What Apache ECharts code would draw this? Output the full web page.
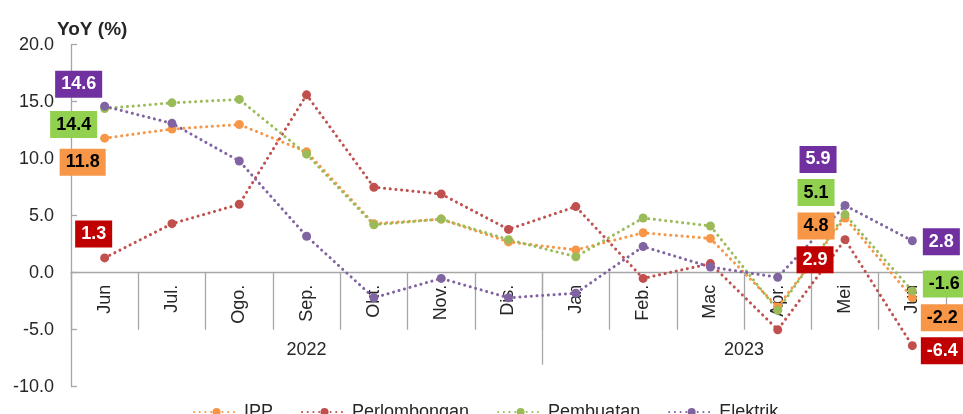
<!DOCTYPE html>
<html>
<head>
<meta charset="utf-8">
<script src="https://cdn.jsdelivr.net/npm/echarts@6/dist/echarts.min.js"></script>
<style>
html,body{margin:0;padding:0;background:#fff;}
#chart{width:963px;height:414px;}
</style>
</head>
<body>
<div id="chart"></div>
<script>
const months = ['Jun','Jul.','Ogo.','Sep.','Okt.','Nov.','Dis.','Jan','Feb.','Mac','Apr.','Mei','Jun'];
const years = ['2022','2023'];
const yTicks = [-10, -5, 0, 5, 10, 15, 20];
const ipp = [11.8, 12.6, 13.0, 10.6, 4.3, 4.7, 2.7, 2.0, 3.5, 3.0, -3.0, 4.8, -2.2];
const perlombongan = [1.3, 4.3, 6.0, 15.6, 7.5, 6.9, 3.8, 5.8, -0.5, 0.8, -5.0, 2.9, -6.4];
const pembuatan = [14.4, 14.9, 15.2, 10.4, 4.2, 4.7, 2.9, 1.4, 4.8, 4.1, -3.3, 5.1, -1.6];
const elektrik = [14.6, 13.1, 9.8, 3.2, -2.2, -0.5, -2.2, -1.8, 2.3, 0.5, -0.4, 5.9, 2.8];

// label placement (index -> pixel offset of label box from point)
const labelOffsets = {
  ipp:          {0: [-22, 24], 11: [-29, 8],  12: [30, 20]},
  perlombongan: {0: [-11, -24], 11: [-30, 20], 12: [30, 5]},
  pembuatan:    {0: [-31, 16], 11: [-29, -22], 12: [32, -7]},
  elektrik:     {0: [-26, -22], 11: [-27, -46], 12: [29, 1]}
};

const font = 'Liberation Sans, Arial, sans-serif';

function buildData(values, offsets, boxColor, textColor) {
  return values.map(function (v, i) {
    if (offsets[i]) {
      return {
        value: v,
        label: {
          show: true,
          position: 'inside',
          offset: offsets[i],
          formatter: function (p) { return p.value.toFixed(1); },
          backgroundColor: boxColor,
          color: textColor,
          fontFamily: font,
          fontWeight: 'bold',
          fontSize: 18,
          lineHeight: 19,
          padding: [4, 6]
        }
      };
    }
    return v;
  });
}

function lineSeries(name, values, color, offsets, boxColor, textColor) {
  return {
    name: name,
    type: 'line',
    data: buildData(values, offsets, boxColor, textColor),
    symbol: 'circle',
    symbolSize: 9,
    itemStyle: {color: color},
    lineStyle: {color: color, width: 3, type: [0.1, 5.6], cap: 'round'},
    emphasis: {disabled: true},
    animation: false,
    z: 2
  };
}

const chart = echarts.init(document.getElementById('chart'), null, {renderer: 'canvas'});
const axisColor = '#A6A6A6';
const textColor = '#262626';
const yMin = yTicks[0], yMax = yTicks[yTicks.length - 1];
const gridTop = 44.7, gridBottom = 27.3;
const plotH = 414 - gridTop - gridBottom;
const zeroOffset = -plotH * (0 - yMin) / (yMax - yMin);

chart.setOption({
  animation: false,
  backgroundColor: '#fff',
  title: {
    text: 'YoY (%)',
    left: 52,
    top: 15,
    textStyle: {fontFamily: font, fontWeight: 'bold', fontSize: 19, color: textColor}
  },
  grid: {left: 71, right: 17, top: gridTop, bottom: gridBottom, containLabel: false, outerBoundsMode: 'none'},
  legend: {
    left: 188,
    top: 397,
    itemWidth: 45,
    itemHeight: 10,
    itemGap: 28,
    textStyle: {fontFamily: font, fontSize: 18, color: textColor, lineHeight: 20},
    data: ['IPP', 'Perlombongan', 'Pembuatan', 'Elektrik']
  },
  xAxis: [
    {
      type: 'category',
      data: months,
      boundaryGap: true,
      position: 'bottom',
      offset: zeroOffset,
      axisLine: {onZero: false, lineStyle: {color: axisColor, width: 1.3}},
      axisTick: {show: true, interval: 0, length: 57, lineStyle: {color: axisColor, width: 1.3}},
      axisLabel: {interval: 0, rotate: 90, margin: 12, fontFamily: font, fontSize: 18, color: textColor},
      splitLine: {show: false}
    },
    {
      type: 'value',
      min: 0,
      max: months.length,
      position: 'bottom',
      offset: zeroOffset,
      axisLine: {show: false, onZero: false},
      axisTick: {show: true, customValues: [7], length: 92, lineStyle: {color: axisColor, width: 1.3}},
      axisLabel: {
        show: true,
        customValues: [3.5, 10],
        margin: 68,
        fontFamily: font, fontSize: 18, color: textColor,
        formatter: function (v) { return v < 7 ? years[0] : years[1]; }
      },
      splitLine: {show: false}
    }
  ],
  yAxis: {
    type: 'value',
    min: yMin,
    max: yMax,
    interval: 5,
    axisLine: {show: true, onZero: false, lineStyle: {color: axisColor, width: 1.3}},
    axisTick: {show: true, inside: true, length: 6, lineStyle: {color: axisColor, width: 1.3}},
    axisLabel: {margin: 17, fontFamily: font, fontSize: 18, color: textColor,
      formatter: function (v) { return v.toFixed(1); }},
    splitLine: {show: false}
  },
  series: [
    lineSeries('IPP', ipp, '#F79646', labelOffsets.ipp, '#F79646', '#000'),
    lineSeries('Perlombongan', perlombongan, '#C0504D', labelOffsets.perlombongan, '#C00000', '#fff'),
    lineSeries('Pembuatan', pembuatan, '#9BBB59', labelOffsets.pembuatan, '#92D050', '#000'),
    lineSeries('Elektrik', elektrik, '#8064A2', labelOffsets.elektrik, '#7030A0', '#fff')
  ]
});
</script>
</body>
</html>
